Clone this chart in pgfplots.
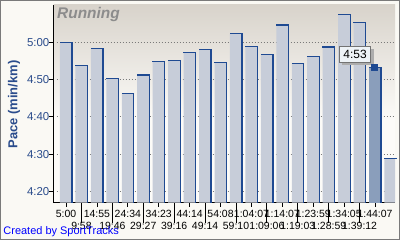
\documentclass[border=0pt]{standalone}
\usepackage{pgfplots}
\pgfplotsset{compat=1.18}
\usepackage{pgfplotstable}
\usepackage{fontspec}
\setmainfont{Liberation Sans}
\definecolor{pagebg}{HTML}{FAF9F4}
\definecolor{plotbg}{HTML}{FCFBF8}
\definecolor{plottop}{HTML}{D8D3CB}
\definecolor{barfill}{HTML}{C7CDD9}
\definecolor{barhi}{HTML}{8A9EBB}
\definecolor{edge}{HTML}{1F4A92}
\definecolor{labblue}{HTML}{2A4C8C}
\definecolor{framegray}{HTML}{7A7A7A}
\definecolor{gridgray}{HTML}{7A7A7A}
\definecolor{tipfill}{HTML}{EEF3F7}
\pgfplotstableread{
x y
1 300
2 293.8
3 298.4
4 290.3
5 286.3
6 291.2
7 294.9
8 295.2
9 297.3
10 298.1
11 294.6
12 302.4
13 298.9
14 296.8
15 304.6
16 294.4
17 296.2
18 298.7
19 307.5
20 305.4
22 268.9
}\pacedata
\pgfplotstableread{
x y
21 293.3
}\hidata
\begin{document}
\begin{tikzpicture}[x=1bp,y=1bp]
\useasboundingbox (0,0) rectangle (400,240);
\fill[pagebg] (0,0) rectangle (400,240);
\fill[plotbg] (53.5,37.5) rectangle (395,235);
\shade[top color=plottop, bottom color=plotbg] (53.5,120) rectangle (395,235);
\draw[framegray, line width=1.5bp] (0.75,0.75) rectangle (399.25,239.25);
\begin{axis}[
  at={(53.5bp,37.5bp)}, anchor=south west,
  scale only axis, width=341.5bp, height=197.5bp,
  xmin=0.191, xmax=22.29, ymin=257.05, ymax=310,
  axis x line=bottom, axis y line=left,
  axis line style={-, black, line width=1bp},
  tick align=outside,
  major tick length=4bp,
  tick style={black, line width=0.8bp},
  xtick={1,3,5,7,9,11,13,15,17,19,21},
  xticklabels={5:00,14:55,24:34,34:23,44:14,54:08,1:04:07,1:14:07,1:23:59,1:34:05,1:44:07},
  xticklabel style={font=\fontsize{10.5}{12}\selectfont, inner sep=0pt, anchor=north, black, yshift=-3.8bp},
  extra x ticks={2,4,6,8,10,12,14,16,18,20},
  extra x tick labels={9:58,19:46,29:27,39:16,49:14,59:10,1:09:06,1:19:03,1:28:59,1:39:12},
  extra x tick style={major tick length=20bp, xticklabel style={yshift=4.6bp}},
  ytick={260,270,280,290,300},
  yticklabels={4:20,4:30,4:40,4:50,5:00},
  yticklabel style={font=\fontsize{11.5}{13}\selectfont, inner sep=0pt, anchor=east, text=labblue},
  ymajorgrids,
  major grid style={gridgray, dash pattern=on 1bp off 2bp, line width=0.8bp},
  axis background/.style={},
]
\addplot[ybar, bar width=0.78, fill=barfill, draw=none] table {\pacedata};
\addplot[ycomb, draw=edge, line width=1.3bp, mark=none] table[x expr=\thisrow{x}+0.39] {\pacedata};
\addplot[only marks, mark=-, mark size=6.3bp, mark options={draw=edge, line width=1.3bp}] table {\pacedata};
\addplot[ybar, bar width=0.78, fill=barhi, draw=none] table {\hidata};
\addplot[ycomb, draw=edge, line width=2bp, mark=none] table[x expr=\thisrow{x}+0.37] {\hidata};
\addplot[only marks, mark=-, mark size=6.3bp, mark options={draw=edge, line width=1.3bp}] table {\hidata};
\addplot[only marks, mark=square*, mark size=2.8bp, mark options={fill=edge, draw=edge, xshift=-1bp}] table {\hidata};
\node[fill=black!32, minimum width=31.4bp, minimum height=16bp, inner sep=0pt, xshift=3bp, yshift=-3bp] at (axis cs:19.705,296.78) {};
\node[fill=tipfill, draw=black!55, line width=1bp, minimum width=31.4bp, minimum height=16bp, inner sep=0pt, font=\fontsize{12}{13}\selectfont] at (axis cs:19.705,296.78) {4:53};
\node[anchor=north west, inner sep=0pt, text=black!45, font=\fontsize{15.5}{17}\selectfont\bfseries\itshape] at (rel axis cs:0,1) [xshift=3.5bp, yshift=-2.5bp] {Running};
\end{axis}
\node[rotate=90, text=labblue, font=\fontsize{13}{15}\selectfont\bfseries, inner sep=0pt] at (14,135.5) {Pace (min/km)};
\node[anchor=base west, inner sep=0pt, text=blue, font=\fontsize{11}{13}\selectfont] at (3.3,6) {Created by SportTracks};
\end{tikzpicture}
\end{document}
